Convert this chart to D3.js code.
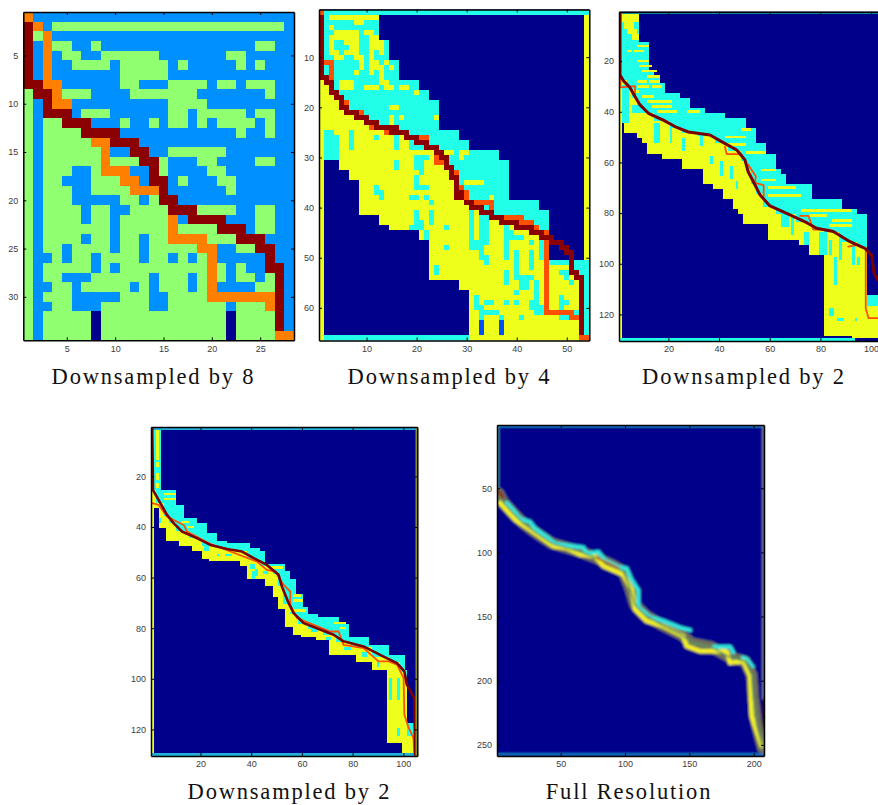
<!DOCTYPE html>
<html>
<head>
<meta charset="utf-8">
<style>
  html, body { margin: 0; padding: 0; background: #fff; overflow: hidden; }
  .tick text { font-family: "Liberation Sans", sans-serif; font-size: 9px; fill: #3c3c3c; }
  .title { font-family: "Liberation Serif", serif; font-size: 22.5px; fill: #111; letter-spacing: 1.8px; text-anchor: middle; }
  rect.run { shape-rendering: crispEdges; }
</style>
</head>
<body>
<svg id="chart" width="878" height="805"></svg>
<script src="https://cdn.jsdelivr.net/npm/d3@7/dist/d3.min.js"></script>
<script>
// panel 1: each row is a list of colour code + last column of that run
var rows8 = [
  "o1 b28", "r1 o2 b3 g27 b28", "r1 g2 o3 b28", "r1 b2 o3 g5 b7 g8 b24 g26 b28",
  "r1 b2 o3 b4 g6 b8 g14 b21 g23 b28", "r1 b2 o3 b5 g9 b10 g15 b16 g17 b22 g23 b24 g25 b28",
  "r1 b2 o3 b10 g15 b28", "r2 o4 b10 g12 b15 g19 b20 g22 b23 g26 b28",
  "g1 r3 o4 g7 b11 g18 b25 g26 b28", "g1 b2 r3 o5 b15 g19 b28",
  "g1 b2 r5 b6 g9 b15 g17 b18 g23 b24 g26 b28", "g1 b2 g4 r7 b10 g11 b13 g14 b15 g17 b18 g19 b20 g24 b25 g26 b28",
  "g1 b2 g6 r10 b22 g23 b25 g26 b28", "g1 b2 g7 o9 r12 b28",
  "g1 b2 g8 o9 b11 r13 b15 g21 b28", "g1 b2 g8 o9 g12 r14 g15 b18 g20 b24 g26 b28",
  "g1 b2 g5 b7 g8 o11 b13 r14 g15 b19 g21 b28", "g1 b2 g4 b7 g10 o12 b13 r15 b16 g17 b20 g22 b28",
  "g1 b2 g5 b7 g11 o14 r15 b21 g22 b28", "g1 b2 g5 b10 g12 b13 g14 r16 b28",
  "g1 b2 g6 b7 g9 b11 g15 r18 g22 b24 g26 b28", "g1 b2 g6 b7 g9 b10 g15 o16 b17 r21 b24 g26 b28",
  "g1 b2 g9 b10 g15 o16 g20 r23 b24 g26 b28", "g1 b2 g6 b7 g9 b10 g12 b13 g15 o19 g22 r25 b28",
  "g1 b2 g4 b5 g9 b10 g12 b13 g18 o20 b22 g24 r26 b28", "g1 b3 g4 b5 g7 b8 g12 b13 g15 b16 g17 b18 g19 o20 b25 r26 b28",
  "g1 b2 g7 b8 g9 b10 g19 o20 g21 b22 g23 b25 r27 b28", "g1 b2 g4 b7 g13 b14 g17 b18 g19 o20 g21 b22 g24 b25 g26 r27 b28",
  "g1 b3 g5 b6 g11 b12 g13 b14 g17 b18 g19 o20 b24 g26 r27 b28", "g1 b2 g5 b10 g13 b15 g19 o26 r27 b28",
  "g1 b3 g5 b8 g13 b15 g21 b22 g25 o26 r27 b28", "g1 b2 g7 n8 g21 n22 g26 r27 b28",
  "g1 b2 g7 n8 g21 n22 g26 r27 b28", "g1 b2 g7 n8 g21 n22 g26 o28"
];

// panel 2: [last row, last column] of the filled area, and [last row, first column] below it
var upper4 = [[1,54],[6,12],[10,14],[14,16],[16,20],[18,22],[24,24],[26,28],[28,30],[30,36],[38,38],[40,44],[50,46],[66,54]];
var lower4 = [[30,1],[32,5],[34,7],[41,9],[43,13],[44,15],[46,21],[54,23],[56,29],[66,31]];
// [row, first col, last col] of the two traced paths
var red4 = [[2,1,1],[3,1,1],[4,1,1],[5,1,1],[6,1,1],[7,1,1],[8,1,1],[9,1,1],[10,1,1],[11,1,1],[12,1,1],[13,1,1],
  [14,1,2],[15,2,3],[16,3,3],[17,3,4],[18,4,5],[19,5,5],[20,5,6],[21,6,8],[22,8,10],[23,10,12],[24,12,16],[25,15,18],
  [26,18,20],[27,20,22],[28,22,24],[29,24,25],[30,25,26],[31,26,26],[32,26,27],[33,27,27],[34,27,28],[35,28,28],[36,28,28],
  [37,28,29],[38,28,29],[39,30,31],[40,31,33],[41,33,35],[42,35,37],[43,37,40],[44,40,43],[45,43,45],[46,45,47],[47,47,49],
  [48,49,50],[49,50,51],[50,51,51],[51,51,51],[52,51,51],[53,51,52],[54,52,53],[55,53,53],[56,53,53],[57,53,53],[58,53,53],
  [59,53,53],[60,53,53],[61,53,53],[62,53,53],[63,53,53],[64,53,53],[65,53,53]];
var orange4 = [[1,1,1],[11,2,3],[12,3,3],[13,3,3],[14,3,3],[19,6,6],[21,9,9],[24,11,11],[25,14,14],[26,21,22],[30,24,24],[31,24,25],
  [33,28,28],[36,29,29],[37,30,30],[38,30,30],[39,32,35],[40,35,35],[42,38,41],[43,41,43],[44,44,44],[45,46,46],[46,46,46],
  [47,46,46],[48,46,46],[49,46,46],[50,46,46],[51,46,46],[52,46,46],[53,46,46],[54,46,46],[55,46,46],[56,46,46],[57,46,46],
  [58,46,46],[59,46,46],[60,46,46],[61,46,51],[62,51,52],[66,53,54]];
// [code, first col, last col, first row, last row] of the small spots
var spots4 = [
  ["y",3,12,2,2],["y",8,9,3,3],["y",3,3,4,4],["y",4,8,5,5],["y",10,11,5,5],["y",3,8,6,6],["y",11,12,6,6],["y",3,3,7,7],["y",6,8,7,7],
  ["y",11,13,7,8],["y",3,3,8,8],["y",7,8,8,8],["y",3,4,9,9],["y",6,8,9,9],["y",11,11,9,9],["y",13,13,9,9],["y",4,5,10,10],["y",8,9,10,10],
  ["y",11,11,10,10],["y",9,9,11,12],["y",11,12,11,11],["y",14,14,11,11],["y",11,12,12,12],["y",15,15,12,12],["y",8,8,13,13],["y",11,11,13,13],
  ["y",13,13,12,14],["y",5,7,15,16],["y",13,14,15,15],["y",10,12,16,16],["y",14,15,16,16],["y",17,18,16,16],["y",20,20,17,17],["y",15,16,20,20],
  ["y",15,15,22,23],["y",17,17,22,22],["y",24,24,22,22],["y",26,27,29,29],["y",29,30,29,29],["y",29,29,30,30],["y",30,33,35,35],["y",35,35,38,38],
  ["c",2,3,25,25],["c",2,4,26,30],["c",7,7,25,28],["c",12,12,26,26],["c",16,16,26,28],["c",19,19,27,28],["c",20,21,28,28],["c",20,22,30,30],
  ["c",16,16,31,32],["c",20,21,31,32],["c",21,21,33,33],["c",20,20,34,35],["c",20,22,36,36],["c",12,12,36,37],["c",13,13,37,38],["c",19,20,38,38],
  ["c",22,22,38,38],["c",23,23,39,39],["c",20,20,41,43],["c",23,23,41,43],["c",21,21,43,43],["c",19,21,44,44],["c",26,26,44,44],["c",22,22,45,46],
  ["c",31,31,41,47],["c",33,34,42,47],["c",32,32,47,47],["c",38,38,44,47],["c",39,39,45,46],["c",40,41,46,46],["c",43,43,47,47],["c",45,45,46,50],
  ["c",26,26,48,48],["c",31,33,48,48],["c",33,33,49,49],["c",33,34,50,50],["c",34,34,51,51],["c",24,24,52,53],["c",38,38,48,50],["c",40,40,49,53],
  ["c",43,43,49,52],["c",45,45,50,50],["c",38,38,53,55],["c",40,43,54,54],["c",41,42,55,56],["c",44,44,55,59],["c",40,40,57,57],["c",32,32,58,60],
  ["c",34,35,59,59],["c",38,38,59,59],["c",40,40,59,59],["c",43,43,59,60],["c",33,33,60,62],["c",44,45,60,61],["c",33,36,61,61],["c",37,37,62,62],
  ["c",41,41,62,62],["c",49,50,62,62],["c",47,54,51,51],["c",49,51,53,53],["c",50,50,54,54],["c",51,51,55,55],["c",49,49,58,60],["c",50,50,59,59],
  ["c",52,52,61,61],["y",1,1,15,66],["y",54,54,2,50],["c",54,54,51,65],["b",33,33,63,66],["b",37,37,63,66],["c",2,30,66,66],["y",31,52,66,66]
];

// panel 3: stair edges and traced paths, columns/rows
var upper2a = [[1,105],[12,8],[24,12],[26,14],[28,16],[32,18],[34,24],[38,28],[40,34],[42,42],[46,50],[52,54],[56,58],[62,62],[64,64],[68,66],[74,76],[78,88],[80,94],[112,98],[130,105]];
var lower2a = [[44,1],[48,3],[50,8],[52,10],[56,12],[58,18],[62,26],[68,34],[70,38],[74,42],[78,46],[80,48],[84,50],[90,60],[92,72],[96,76],[128,82],[129,93],[130,105]];
var main2a = [[0.9,0.5],[0.9,25.5],[2.2,27.7],[4.8,30.4],[6.8,34],[8.8,37.3],[12.1,40.6],[18,43.3],[23.3,46.2],[27.9,48],[36.4,49.2],[41.7,52.2],[47,55.1],[50.2,59],[51.5,63.7],[54.2,68.9],[56.2,72.9],[60.1,77.2],[66.7,80.1],[74.6,83.8],[78.5,86],[85.1,87.3],[91.7,91.3],[97.6,93.9],[100.2,96.6],[101.2,103.8],[102.7,106.4],[105,108]];
var loops2a = [
  [[1.1,26.8],[1.1,30.4],[6.8,29.9],[6.9,33.5]],
  [[42.3,53.8],[43,56.7],[47.6,56.7],[49,57]],
  [[51.5,60.9],[54.5,65.5],[54.2,68.1],[57.6,69],[57.6,73.4]],
  [[72,81.1],[75.3,81.1],[77.2,86.5],[83.7,86.5]],
  [[91,93.2],[94.3,92.6]],
  [[97.9,93.9],[97.9,117.6],[99,121.5],[105.5,121.5]]
];
var spots2a = [
  ["y",2,8,1,4],["y",3,6,5,7],["y",4,7,8,9],["y",6,8,10,11],["y",8,12,14,14],["y",4,5,16,16],["y",7,10,16,16],["y",8,12,20,20],["y",9,13,22,22],
  ["y",10,15,24,24],["y",12,16,26,26],["y",8,11,28,28],["y",13,16,28,28],["y",8,12,30,30],["y",14,17,30,30],["y",6,8,32,32],["y",10,14,34,34],
  ["y",12,21,36,36],["y",14,21,38,38],["y",16,23,40,40],["y",28,32,40,40],["y",49,52,47,47],["y",43,50,50,50],["y",44,50,53,53],["y",51,58,56,56],
  ["y",57,62,63,63],["y",57,62,67,67],["y",60,70,70,70],["y",60,72,73,73],["y",73,92,79,79],["y",76,82,81,81],["y",85,92,83,83],["y",84,92,85,85],
  ["c",2,4,30,44],["c",6,9,38,40],["c",15,16,45,52],["c",21,21,46,52],["c",26,26,51,55],["c",33,33,49,53],["c",37,37,58,60],["c",41,41,60,65],
  ["c",45,45,62,66],["c",47,47,68,70],["c",65,67,81,85],["c",69,69,82,88],["c",74,75,88,92],["c",80,82,88,96],["c",84,84,91,96],["c",86,86,98,108],
  ["c",88,88,90,98],["c",93,93,92,100],["c",95,95,98,100],["c",84,85,118,120],["c",87,89,122,122],["c",94,94,122,122],
  ["c",99,105,113,116],["y",1,1,28,130],["c",1,1,1,27],["c",1,93,130,130],["t",1,105,1,1]
];

// panel 4: same picture at a tighter band
var upper2b = [[1,105],[25,4],[31,10],[36,13],[38,18],[42,22],[45,26],[46,30],[48,39],[49,43],[54,45],[57,53],[60,55],[66,57],[71,60],[74,62],[75,66],[78,74],[83,78],[86,86],[90,94],[96,100],[118,101],[130,105]];
var lower2b = [[32,1],[40,4],[45,7],[47,12],[49,17],[52,21],[53,24],[55,36],[60,39],[63,46],[67,49],[72,51],[79,54],[82,57],[83,60],[84,66],[90,71],[93,82],[96,88],[125,94],[129,100],[130,105]];
var main2b = [[1,0.5],[1.3,25.4],[4.2,30.6],[6.8,35.2],[9.4,38.5],[12.7,41.8],[18.6,44.4],[23.9,47.1],[30.5,48.7],[36.4,49.7],[41,52.3],[46.2,55],[50.8,58.9],[52.1,63.5],[54.8,70.1],[56.7,74],[60.7,78],[65.9,80],[72.5,82.6],[76.4,85.2],[84.3,87.2],[92.2,91.2],[97.5,93.8],[100.4,97.1],[101.4,102.3],[104.3,107.6],[104.7,130]];
var loop2b = [[1,30.6],[3.5,31.3],[6.8,35.9],[13.4,39.2],[14.7,41.8],[23.2,46.4],[31.8,49.7],[42.3,53.7],[46.2,57],[49.5,57.6],[52.8,62.9],[55.4,65.5],[55.4,70.8],[58.1,76],[71.2,81.3],[74.5,81.3],[76.4,86.6],[84.3,87.9],[90.2,93.1],[94.2,93.1],[97.5,94.4],[100.1,99.7],[100.4,114.2],[102.1,119.4],[104,123.4],[104.3,130]];
var spots2b = [
  ["y",3,3,1,13],["y",3,3,15,16],["y",3,3,19,21],["y",3,3,23,24],["y",6,10,27,27],["y",6,10,29,29],["y",13,15,38,38],["y",15,17,40,40],["y",47,52,56,56],
  ["y",57,59,67,67],["y",57,60,69,69],["y",56,61,73,73],["y",73,77,78,78],["y",75,77,80,80],
  ["c",4,4,37,38],["c",22,23,47,49],["c",27,27,51,51],["c",30,32,51,51],["c",40,41,55,56],["c",42,42,57,59],["c",41,41,58,60],["c",45,46,58,58],
  ["c",64,66,81,81],["c",70,71,84,84],["c",77,79,88,88],["c",84,85,90,91],["c",90,90,93,95],["c",95,95,100,108],["c",98,98,100,108],["c",98,98,120,122],
  ["c",102,105,118,122],["y",1,1,2,130],["s",1,105,1,1],["s",1,105,130,130]
];

// panel 5: smoothed ridge lines at full resolution
var ridgeYellow = [[2.8,61.4],[14.5,74.4],[26.2,82.2],[44.3,95.2],[54.7,96.5],[65,101.7],[76.7,103],[83.2,110.8],[98.7,117.3],[105.2,129],[107.8,144.5],[116.8,153.6],[129.8,157.5],[145.3,165.3],[147.9,173.1],[158.3,177],[179,177],[181.6,186.1],[192,184.8],[197.2,196.5],[198.4,227.7],[206.2,251]];
var ridgeCyanA = [[8,61.4],[13.2,67.1],[18.4,73.6],[26.2,76.2],[30.1,81.4],[39.1,87.9],[45.6,93.1],[59.8,95.2],[67.6,96.2],[70.2,100.9],[79.3,99.6],[84.5,106.1],[94.8,111.3],[101.3,112.6],[105.2,121.7],[110.4,129.5],[110.4,142.5],[119.4,150.3],[129.8,153.4],[142.7,158.6],[150.5,160.6]];
var ridgeCyanB = [[168.7,173.6],[181.6,173.6],[184.2,178]];
var ridgeCyanC = [[191,181.5],[194.6,182.7],[199.7,189.2]];
var ridgeMain = [[1.6,53.9],[5.4,60.9],[11.9,68.2],[21,77.3],[31.3,85.1],[43,92.9],[53.4,96],[65,99.4],[78,104.5],[89.6,109.7],[98.7,114.9],[103.9,127.9],[107.8,140.9],[115.5,148.7],[128.5,156.5],[144,164.3],[151.8,170.8],[167.4,173.9],[180.3,181.2],[193.3,185],[198.4,195.5],[199.7,213.6],[202.3,234.4],[207,252.6]];
var ridgeHot = [[1.6,52.5],[5,57]];
var ridgeWarm = [[78,104],[88,108.5],[95,112]];

var xTicks8 = [5, 10, 15, 20, 25], yTicks8 = [5, 10, 15, 20, 25, 30];
var xTicks4 = [10, 20, 30, 40, 50], yTicks4 = [10, 20, 30, 40, 50, 60];
var xTicks2 = [20, 40, 60, 80, 100], yTicks2 = [20, 40, 60, 80, 100, 120];
var xTicks1 = [50, 100, 150, 200], yTicks1 = [50, 100, 150, 200, 250];

var colors8 = { n: "#00008f", b: "#0090ff", g: "#90ff70", o: "#ff8000", r: "#8b0000" };
var colors4 = { n: "#00008b", b: "#0050ff", c: "#20ffe8", y: "#eeff1e", o: "#ff5000", r: "#8b0000", t: "#108a9a", s: "#20b0d8" };

var svg = d3.select("#chart");
var defs = svg.append("defs");
[["soft1", 0.4], ["soft2", 0.45], ["soft3", 1.1]].forEach(function (f) {
  defs.append("filter").attr("id", f[0]).attr("x", "-5%").attr("y", "-5%").attr("width", "110%").attr("height", "110%")
    .append("feGaussianBlur").attr("stdDeviation", f[1]);
});

function stepLookup(steps, row) {
  for (var i = 0; i < steps.length; i++) {
    if (row <= steps[i][0]) return steps[i][1];
  }
  return steps[steps.length - 1][1];
}

// turn "y12"-style strings into [{code, c0, c1, row}]
function parseRuns(rows) {
  var runs = [];
  rows.forEach(function (s, i) {
    var start = 1;
    s.split(" ").forEach(function (t) {
      var end = +t.slice(1);
      runs.push({ code: t[0], c0: start, c1: end, row: i + 1 });
      start = end + 1;
    });
  });
  return runs;
}

// fill a row/col grid from the edges, then compress it to runs
function gridRuns(nRows, nCols, upper, lower, split, spots, red, orange) {
  var grid = d3.range(nRows + 1).map(function () { return d3.range(nCols + 1).map(function () { return "n"; }); });
  d3.range(1, nRows + 1).forEach(function (r) {
    var right = stepLookup(upper, r), left = stepLookup(lower, r), mid = split(r);
    d3.range(left, right + 1).forEach(function (c) { grid[r][c] = c < mid ? "y" : "c"; });
  });
  spots.forEach(function (s) {
    d3.range(s[3], s[4] + 1).forEach(function (r) {
      d3.range(s[1], s[2] + 1).forEach(function (c) { grid[r][c] = s[0]; });
    });
  });
  [["o", orange || []], ["r", red || []]].forEach(function (layer) {
    layer[1].forEach(function (s) {
      d3.range(s[1], s[2] + 1).forEach(function (c) { grid[s[0]][c] = layer[0]; });
    });
  });
  var runs = [];
  d3.range(1, nRows + 1).forEach(function (r) {
    var start = 1;
    d3.range(1, nCols + 1).forEach(function (c) {
      if (c === nCols || grid[r][c + 1] !== grid[r][c]) {
        runs.push({ code: grid[r][c], c0: start, c1: c, row: r });
        start = c + 1;
      }
    });
  });
  return runs;
}

function panel(id, box, xDomain, yDomain, xTicks, yTicks, title, titleX, titleY, soft) {
  var x = d3.scaleLinear().domain(xDomain).range([box.left, box.right]);
  var y = d3.scaleLinear().domain(yDomain).range([box.top, box.bottom]);
  defs.append("clipPath").attr("id", "clip" + id).append("rect")
    .attr("x", box.left).attr("y", box.top).attr("width", box.right - box.left).attr("height", box.bottom - box.top);
  var outer = svg.append("g").attr("clip-path", "url(#clip" + id + ")");
  var plot = outer.append("g").attr("filter", "url(#" + soft + ")");

  var axes = svg.append("g").attr("class", "axes");
  function addAxis(axis, tx, ty, labels) {
    var g = axes.append("g").attr("transform", "translate(" + tx + "," + ty + ")")
      .call(axis.tickSizeInner(-3).tickSizeOuter(0).tickPadding(5));
    g.select(".domain").attr("stroke", "#000").attr("stroke-width", 1.5);
    g.selectAll(".tick line").attr("stroke", "#000");
    if (!labels) g.selectAll(".tick text").remove();
  }
  addAxis(d3.axisBottom(x).tickValues(xTicks), 0, box.bottom, true);
  addAxis(d3.axisTop(x).tickValues(xTicks), 0, box.top, false);
  addAxis(d3.axisLeft(y).tickValues(yTicks), box.left, 0, true);
  addAxis(d3.axisRight(y).tickValues(yTicks), box.right, 0, false);
  svg.append("text").attr("class", "title").attr("x", titleX).attr("y", titleY).text(title);
  return { x: x, y: y, plot: plot };
}

function drawRuns(p, runs, colors) {
  p.plot.append("rect")
    .attr("x", p.x.range()[0] - 3).attr("y", p.y.range()[0] - 3)
    .attr("width", p.x.range()[1] - p.x.range()[0] + 6).attr("height", p.y.range()[1] - p.y.range()[0] + 6)
    .attr("fill", colors.n);
  p.plot.selectAll("rect.run").data(runs.filter(function (d) { return d.code !== "n"; })).enter().append("rect")
    .attr("class", "run")
    .attr("x", function (d) { return Math.round(p.x(d.c0 - 0.5)); })
    .attr("y", function (d) { return Math.round(p.y(d.row - 0.5)); })
    .attr("width", function (d) { return Math.round(p.x(d.c1 + 0.5)) - Math.round(p.x(d.c0 - 0.5)); })
    .attr("height", function (d) { return Math.round(p.y(d.row + 0.5)) - Math.round(p.y(d.row - 0.5)); })
    .attr("fill", function (d) { return colors[d.code]; });
}

function drawPath(p, pts, color, width) {
  var line = d3.line().x(function (d) { return p.x(d[0]); }).y(function (d) { return p.y(d[1]); });
  p.plot.append("path").attr("d", line(pts)).attr("fill", "none").attr("stroke", color)
    .attr("stroke-width", width).attr("stroke-linejoin", "round").attr("stroke-linecap", "round");
}

var p8 = panel(8, { left: 23.3, right: 294, top: 12, bottom: 340.3 }, [0.5, 28.5], [0.5, 34.5], xTicks8, yTicks8, "Downsampled by 8", 153.5, 384, "soft1");
drawRuns(p8, parseRuns(rows8), colors8);

var p4 = panel(4, { left: 319, right: 589.3, top: 9.5, bottom: 340.5 }, [0.5, 54.5], [0.5, 66.5], xTicks4, yTicks4, "Downsampled by 4", 449.5, 384, "soft1");
var split4 = function (r) {
  var hit = red4.filter(function (d) { return d[0] === r; })[0];
  if (hit) return hit[1];
  return r < 2 ? 1 : 54;
};
drawRuns(p4, gridRuns(66, 54, upper4, lower4, split4, spots4, red4, orange4), colors4);

// which column the traced path sits in on a row: mean of the two read points around it
function pathSplit(path) {
  return function (r) {
    for (var i = 0; i < path.length; i++) {
      if (path[i][1] >= r) return i === 0 ? path[0][0] : Math.round((path[i - 1][0] + path[i][0]) / 2);
    }
    return 200;
  };
}

var p2a = panel("2a", { left: 619, right: 885, top: 11.7, bottom: 341 }, [0.5, 105.5], [0.5, 130.5], xTicks2, yTicks2, "Downsampled by 2", 744, 384, "soft2");
drawRuns(p2a, gridRuns(130, 105, upper2a, lower2a, pathSplit(main2a), spots2a), colors4);
loops2a.forEach(function (l) { drawPath(p2a, l, "#ff5000", 1.8); });
drawPath(p2a, main2a, "#7a0000", 3);

var p2b = panel("2b", { left: 151, right: 417.3, top: 427, bottom: 756 }, [0.5, 105.5], [0.5, 130.5], xTicks2, yTicks2, "Downsampled by 2", 289.5, 799, "soft2");
drawRuns(p2b, gridRuns(130, 105, upper2b, lower2b, pathSplit(main2b), spots2b), colors4);
drawPath(p2b, loop2b, "#ff5000", 1.8);
drawPath(p2b, main2b, "#7a0000", 2.6);
// right-hand column is darker in this copy
drawPath(p2b, [[105.2, 0.5], [105.2, 130.5]], "#8a8a20", 2.2);

var p1 = panel(1, { left: 497, right: 764, top: 425, bottom: 756 }, [0.5, 208], [0.7, 258.7], xTicks1, yTicks1, "Full Resolution", 629, 799, "soft3");
drawRuns(p1, [], colors4);
drawPath(p1, [[1, 1.5], [208, 1.5]], "#1e90d8", 2);
drawPath(p1, [[1, 257.5], [208, 257.5]], "#1e90d8", 2);
drawPath(p1, [[1.2, 2], [1.2, 50]], "#3fa0b0", 2);
drawPath(p1, [[207.6, 2], [207.6, 215]], "#7a7f90", 2.5);
drawPath(p1, [[207.6, 215], [207.6, 250]], "#3a0030", 2.5);
drawPath(p1, ridgeMain, "#70705a", 11);
drawPath(p1, ridgeYellow, "#f4f020", 4.5);
drawPath(p1, ridgeCyanA, "#30e8e0", 4);
drawPath(p1, ridgeCyanB, "#30e8e0", 4);
drawPath(p1, ridgeCyanC, "#30e8e0", 3);
drawPath(p1, ridgeMain, "#5f9a60", 1.8);
drawPath(p1, ridgeHot, "#8a2010", 3);
drawPath(p1, ridgeWarm, "#b86a10", 2);
</script>
</body>
</html>
